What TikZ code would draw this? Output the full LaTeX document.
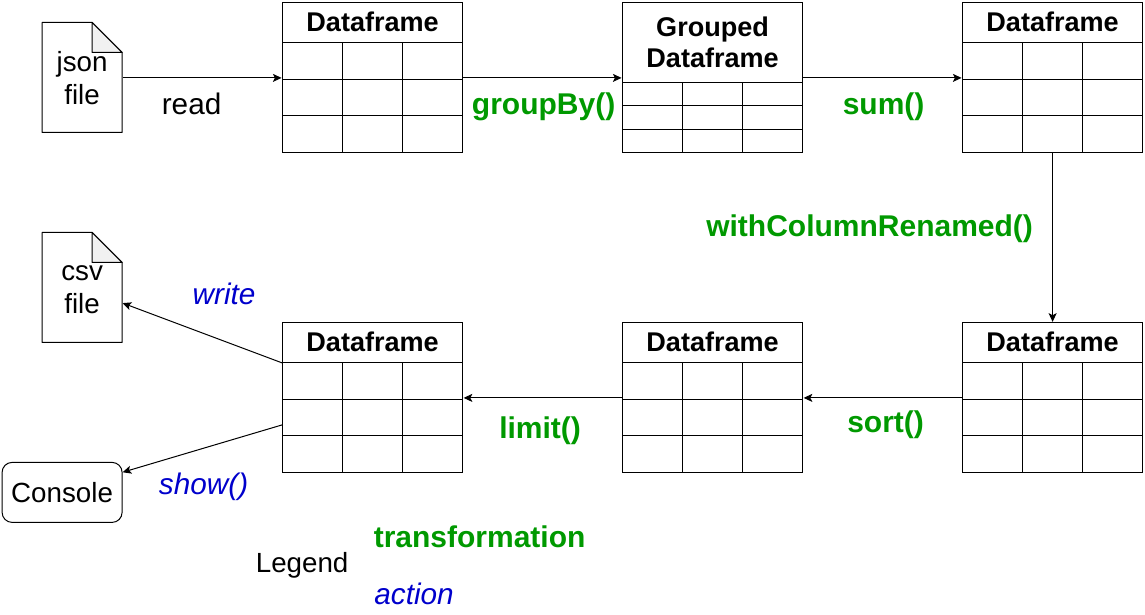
\documentclass[tikz,border=0pt]{standalone}
\usepackage{fontspec}
\setmainfont{Liberation Sans}
\usetikzlibrary{arrows.meta}
\definecolor{tgreen}{HTML}{009900}
\definecolor{tblue}{HTML}{0000CC}
\definecolor{foldfill}{HTML}{F1F1F1}
\tikzset{
  x=0.75pt,y=-0.75pt,
  line/.style={draw=black,line width=0.75pt},
  conn/.style={line,-{Stealth[length=6.5pt,width=6pt,inset=1.5pt]},shorten >=0.4pt},
  tframe/.style={line,rectangle,minimum width=135pt,minimum height=112.5pt,inner sep=0pt,fill=white},
  doc/.style={line,rectangle,minimum width=60pt,minimum height=82.5pt,inner sep=0pt,draw=none},
  title/.style={anchor=base,inner sep=0pt,font=\fontsize{20.3pt}{23.5pt}\selectfont\bfseries,align=center},
  plain/.style={anchor=base,inner sep=0pt,font=\fontsize{22.3pt}{26pt}\selectfont},
  plainsm/.style={anchor=base,inner sep=0pt,font=\fontsize{20.8pt}{24pt}\selectfont},
  trans/.style={anchor=base,inner sep=0pt,text=tgreen,font=\fontsize{22.5pt}{26pt}\selectfont\bfseries},
  act/.style={anchor=base,inner sep=0pt,text=tblue,font=\fontsize{22.3pt}{26pt}\selectfont\itshape},
  doctext/.style={inner sep=0pt,align=center,font=\fontsize{20.8pt}{24.5pt}\selectfont},
}
% name, left x, top y, y of header rule, row rule 1, row rule 2
\newcommand{\dftable}[6]{%
  \node[tframe,anchor=north west] (#1) at (#2,#3) {};
  \draw[line] (#2,#4) -- ++(180,0);
  \draw[line] (#2,#5) -- ++(180,0);
  \draw[line] (#2,#6) -- ++(180,0);
  \draw[line] (#2+60,#4) -- (#2+60,#3+150);
  \draw[line] (#2+120,#4) -- (#2+120,#3+150);
}
% name, left x, top y
\newcommand{\docshape}[3]{%
  \node[doc,anchor=north west] (#1) at (#2,#3) {};
  \draw[line,fill=white,line join=round] (#2,#3) -- ++(50,0) -- ++(30,30) -- ++(0,80) -- ++(-80,0) -- cycle;
  \draw[line,fill=foldfill,line join=round] (#2+50,#3) -- ++(30,30) -- ++(-30,0) -- cycle;
}
\begin{document}
\begin{tikzpicture}
\useasboundingbox (0.4,0.1) rectangle (1145.4,614.1);
\fill[white] (0.4,0.1) rectangle (1145.4,614.1);

\docshape{json}{42.5}{22.5}
\docshape{csv}{42.5}{232.5}
\node[doctext] (jsontext) at (82.5,78.5) {json\\file};
\node[doctext] (csvtext) at (82.5,290) {csv\\file};

\dftable{df1}{282.5}{2.5}{42.5}{79.5}{115.5}
\dftable{gdf}{622.5}{2.5}{82.5}{105.5}{129.5}
\dftable{df3}{962.5}{2.5}{42.5}{79.5}{115.5}
\dftable{df4}{962.5}{322.5}{362.5}{399.5}{435.5}
\dftable{df5}{622.5}{322.5}{362.5}{399.5}{435.5}
\dftable{df6}{282.5}{322.5}{362.5}{399.5}{435.5}

\node[title] (t1) at (373,32) {Dataframe};
\node[title] (t2) at (713,68) {Grouped\\Dataframe};
\node[title] (t3) at (1053,32) {Dataframe};
\node[title] (t4) at (1053,352) {Dataframe};
\node[title] (t5) at (713,352) {Dataframe};
\node[title] (t6) at (373,352) {Dataframe};

\node[line,rectangle,rounded corners=7.5pt,minimum width=90pt,minimum height=45pt,inner sep=0pt,font=\fontsize{20.8pt}{24pt}\selectfont] (console) at (62.5,492.5) {Console};

\coordinate (writefrom) at (282.5,363);
\coordinate (writeto) at (122.5,303);
\coordinate (showfrom) at (282.5,425);
\coordinate (showto) at (122.5,472.5);

\draw[conn] (json.east) -- (df1.west);
\draw[conn] (df1.east) -- (gdf.west);
\draw[conn] (gdf.east) -- (df3.west);
\draw[conn] (df3.south) -- (df4.north);
\draw[conn] (df4.west) -- (df5.east);
\draw[conn] (df5.west) -- (df6.east);
\draw[conn] (writefrom) -- (writeto);
\draw[conn] (showfrom) -- (showto);

\node[plain] (lread) at (192,114.5) {read};
\node[trans] (lgroup) at (544,115) {groupBy()};
\node[trans] (lsum) at (884,115) {sum()};
\node[trans] (lren) at (870,237) {withColumnRenamed()};
\node[trans] (lsort) at (886,433) {sort()};
\node[trans] (llimit) at (540.5,439) {limit()};
\node[act] (lwrite) at (224.5,305) {write};
\node[act] (lshow) at (204,495) {show()};
\node[plainsm] (legend) at (302.5,573) {Legend};
\node[trans] (ltrans) at (480,548) {transformation};
\node[act] (lact) at (414.5,605) {action};
\end{tikzpicture}
\end{document}
